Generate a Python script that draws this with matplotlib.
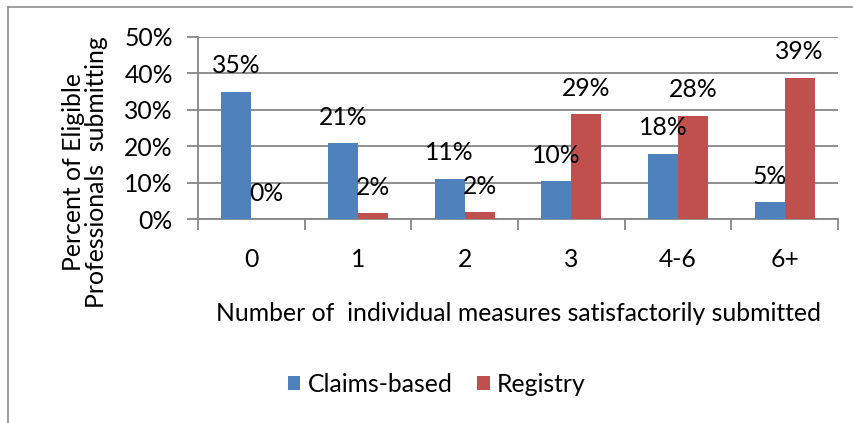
import numpy as np
import matplotlib.pyplot as plt
from matplotlib.lines import Line2D

categories = ["0", "1", "2", "3", "4-6", "6+"]
claims = [34.9, 20.8, 11.0, 10.4, 17.9, 4.6]
registry = [0.0, 1.6, 1.9, 28.8, 28.4, 38.8]
claims_labels = ["35%", "21%", "11%", "10%", "18%", "5%"]
registry_labels = ["0%", "2%", "2%", "29%", "28%", "39%"]

blue = "#4F81BD"
red = "#C0504D"
grid_col = "#868686"
fs = 17.8

plt.rcParams['font.family'] = ['Lato', 'DejaVu Sans']

fig = plt.figure(figsize=(8.54, 4.23), dpi=100)
ax = fig.add_axes([198 / 854, 1 - 219 / 423, 640 / 854, 182 / 423])

x = np.arange(len(categories))
w = 0.28
ax.bar(x - w / 2, claims, w, color=blue, label="Claims-based", zorder=3)
ax.bar(x + w / 2, registry, w, color=red, label="Registry", zorder=3)

# data labels sit a fixed distance above each bar top
for xi, v, t in zip(x - w / 2, claims, claims_labels):
    ax.annotate(t, (xi, v), xytext=(0, 26), textcoords='offset pixels',
                ha='center', va='center', fontsize=fs, zorder=4)
for xi, v, t in zip(x + w / 2, registry, registry_labels):
    ax.annotate(t, (xi, v), xytext=(0, 26), textcoords='offset pixels',
                ha='center', va='center', fontsize=fs, zorder=4)

ax.set_xlim(-0.5, len(categories) - 0.5)
ax.set_ylim(0, 50)
ax.set_yticks(np.arange(0, 51, 10))
ax.set_yticklabels([f"{v}%" for v in range(0, 51, 10)], fontsize=fs)
ax.yaxis.grid(True, color=grid_col, linewidth=1.3, zorder=0)

ax.set_xticks(x)
ax.set_xticklabels(categories, fontsize=fs)
ax.tick_params(axis='x', length=0, pad=21)
ax.set_xticks(np.arange(-0.5, len(categories)), minor=True)
ax.tick_params(axis='x', which='minor', length=8, color=grid_col, width=1.3)
ax.tick_params(axis='y', length=8, color=grid_col, width=1.3, pad=10)

for s in ['top', 'right']:
    ax.spines[s].set_visible(False)
for s in ['left', 'bottom']:
    ax.spines[s].set_color(grid_col)
    ax.spines[s].set_linewidth(1.3)

ax.set_xlabel("Number of  individual measures satisfactorily submitted",
              fontsize=fs, labelpad=22)
ax.set_ylabel("Percent of Eligible\nProfessionals  submitting", fontsize=fs,
              linespacing=1.05, va='center', ha='center')
ax.yaxis.set_label_coords((85 - 198) / 640, (219 - 172) / 182)

fig.legend(loc='center', bbox_to_anchor=(437 / 854, 1 - 384 / 423),
           ncol=2, frameon=False, fontsize=fs, handlelength=0.5,
           handleheight=0.5, handletextpad=0.3, columnspacing=1.0)

# outer chart border (only top and left edges visible)
fig.add_artist(Line2D([8 / 854, 852 / 854], [1 - 7 / 423, 1 - 7 / 423],
                      color="#8c8c8c", linewidth=1.2, transform=fig.transFigure))
fig.add_artist(Line2D([8 / 854, 8 / 854], [1 - 7 / 423, 0],
                      color="#8c8c8c", linewidth=1.2, transform=fig.transFigure))

fig.savefig("out.png", dpi=100)
